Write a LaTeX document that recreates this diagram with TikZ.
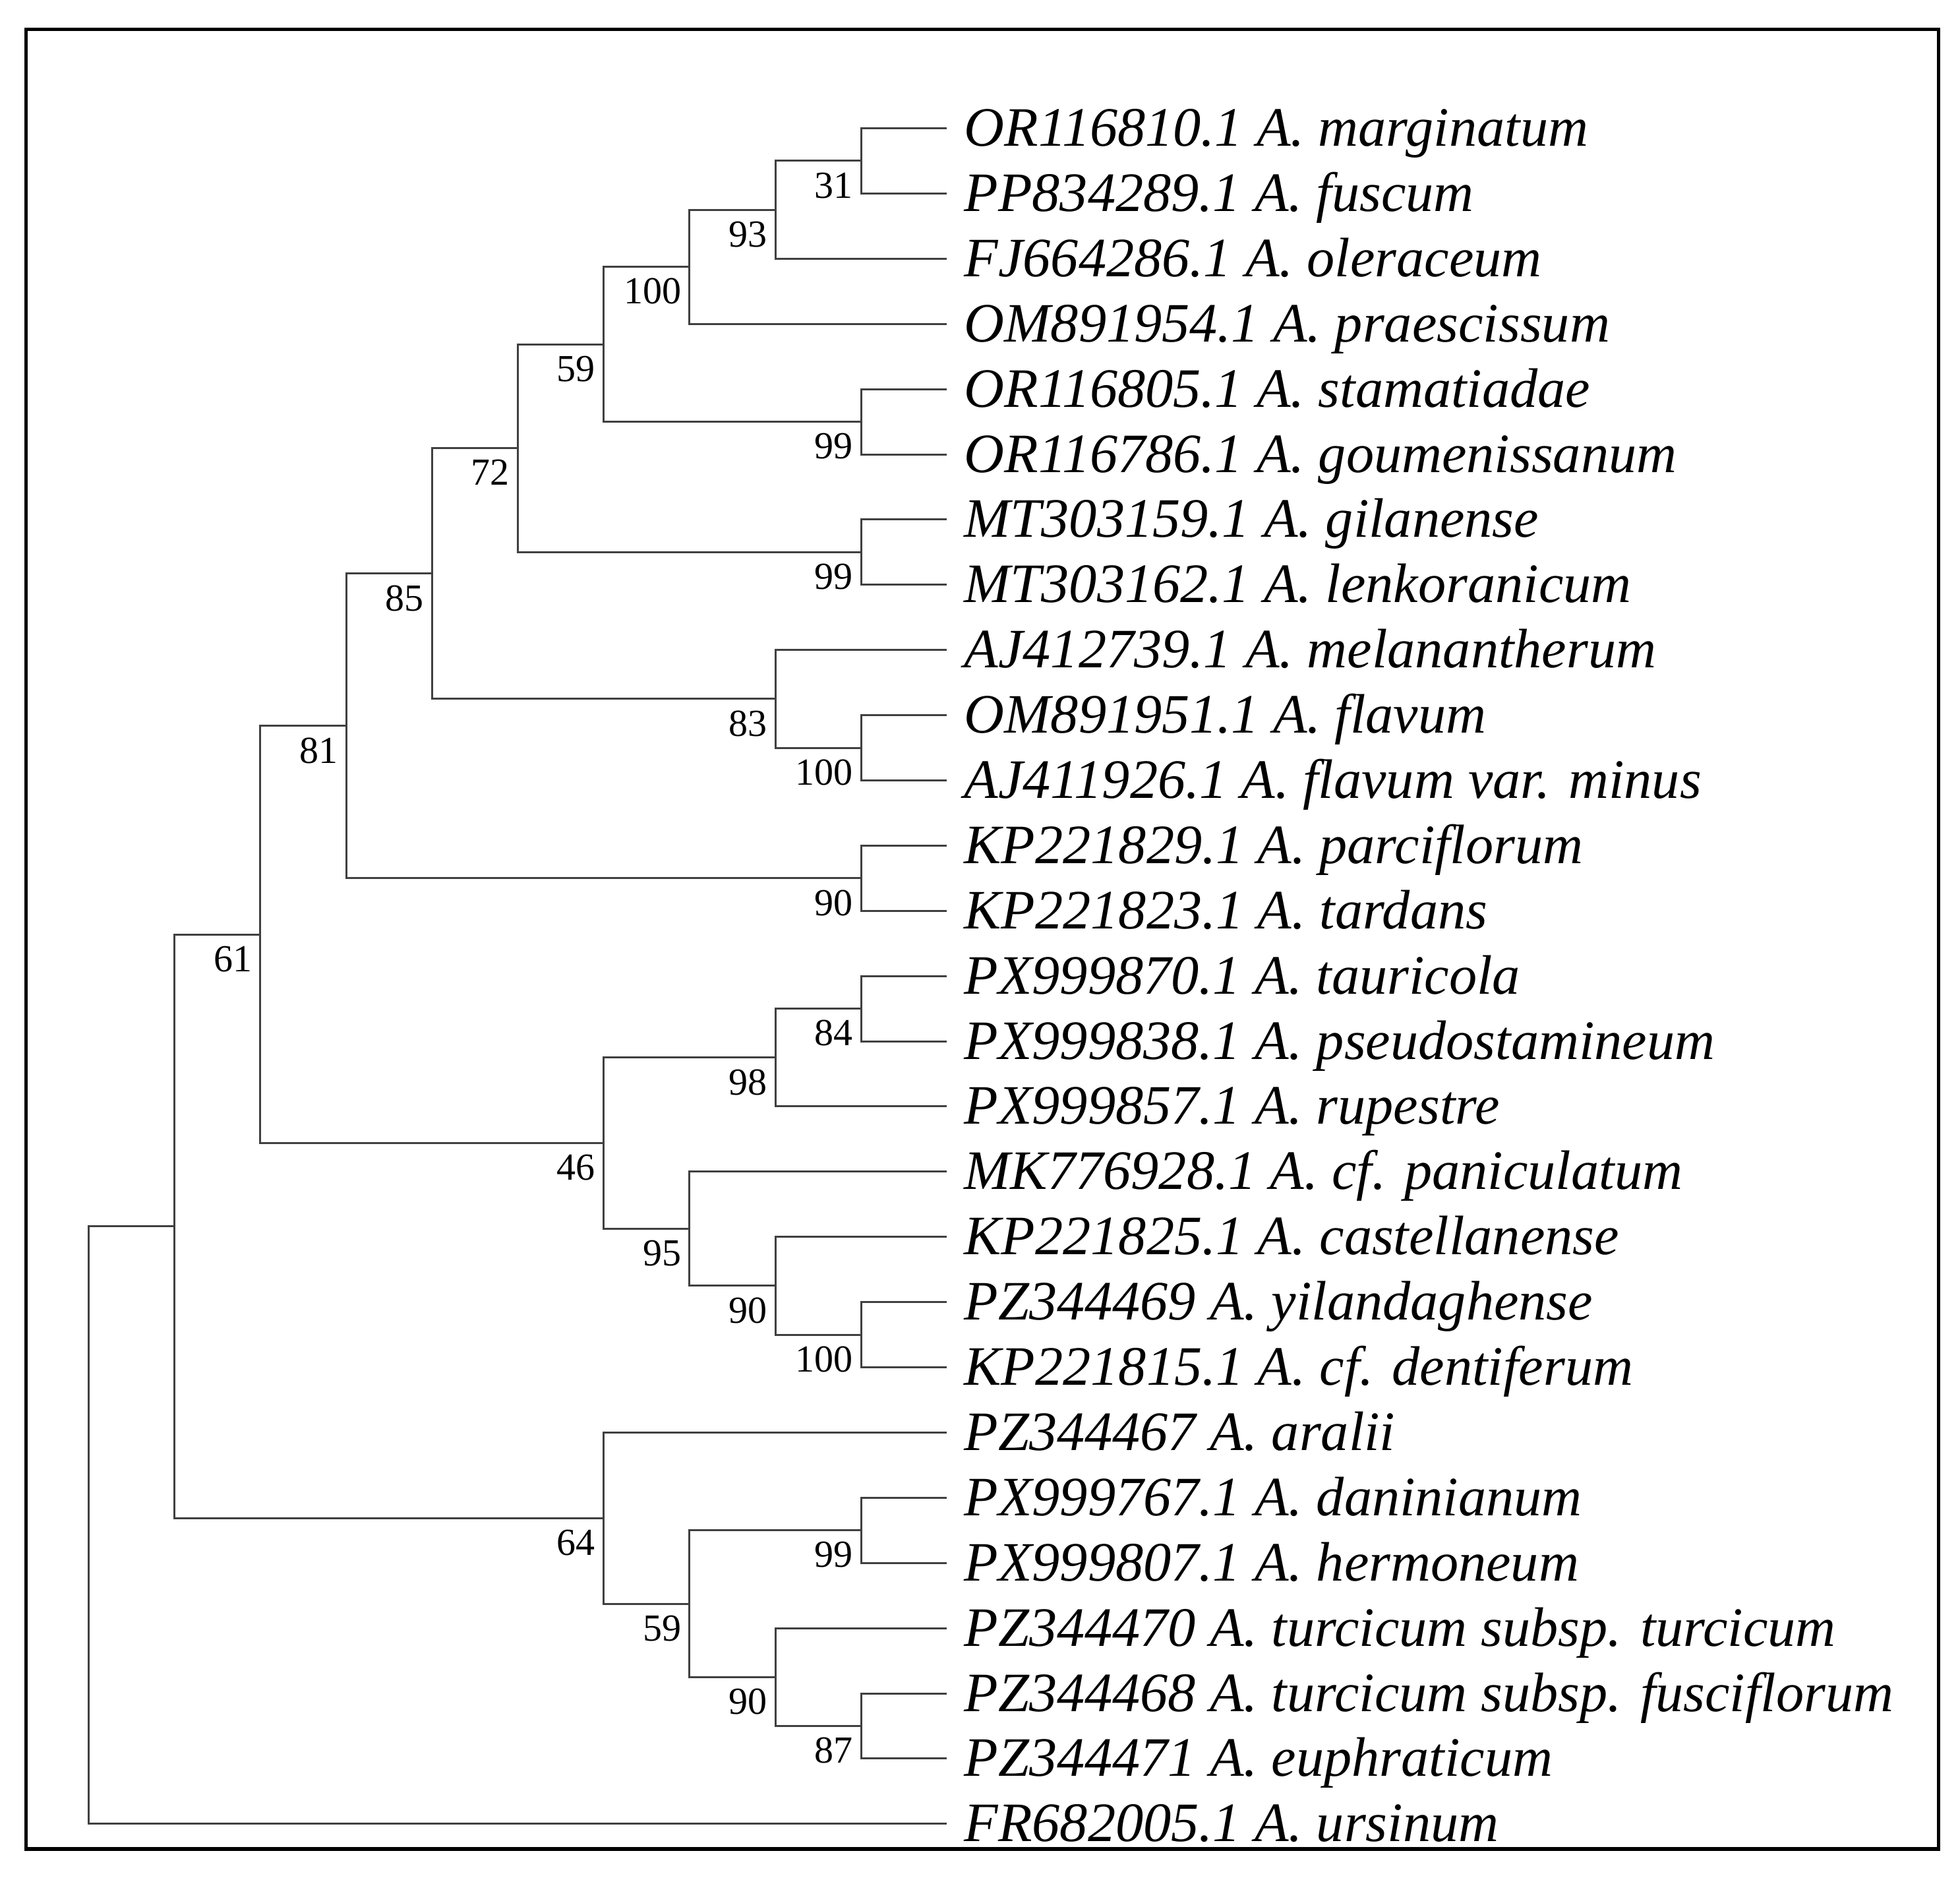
\documentclass[tikz,border=0pt]{standalone}
\usepackage{fontspec}
\setmainfont{Liberation Serif}

\begin{document}
\begin{tikzpicture}[x=1.302cm, y=-0.989cm,
	branch/.style={draw=black!75, line width=0.85pt},
	leaf/.style={anchor=base west, inner sep=0pt, xshift=0.255cm, yshift=-0.27cm,
		font=\fontsize{24pt}{28pt}\selectfont\itshape},
	boot/.style={anchor=north east, inner sep=0pt, xshift=-0.12cm, yshift=-0.17cm,
		font=\fontsize{16.5pt}{20pt}\selectfont}
]
	\useasboundingbox (-1.033,-1.967) rectangle (21.802,26.821);
	% Frame
	\draw[line width=1.56pt] (-0.728,-1.516) rectangle (21.552,26.385);

	% Tips
	\coordinate (t1)  at (10,0);
	\coordinate (t2)  at (10,1);
	\coordinate (t3)  at (10,2);
	\coordinate (t4)  at (10,3);
	\coordinate (t5)  at (10,4);
	\coordinate (t6)  at (10,5);
	\coordinate (t7)  at (10,6);
	\coordinate (t8)  at (10,7);
	\coordinate (t9)  at (10,8);
	\coordinate (t10) at (10,9);
	\coordinate (t11) at (10,10);
	\coordinate (t12) at (10,11);
	\coordinate (t13) at (10,12);
	\coordinate (t14) at (10,13);
	\coordinate (t15) at (10,14);
	\coordinate (t16) at (10,15);
	\coordinate (t17) at (10,16);
	\coordinate (t18) at (10,17);
	\coordinate (t19) at (10,18);
	\coordinate (t20) at (10,19);
	\coordinate (t21) at (10,20);
	\coordinate (t22) at (10,21);
	\coordinate (t23) at (10,22);
	\coordinate (t24) at (10,23);
	\coordinate (t25) at (10,24);
	\coordinate (t26) at (10,25);
	\coordinate (t27) at (10,26);

	% Taxon labels
	\node[leaf] (l1)  at (t1)  {OR116810.1 A. marginatum};
	\node[leaf] (l2)  at (t2)  {PP834289.1 A. fuscum};
	\node[leaf] (l3)  at (t3)  {FJ664286.1 A. oleraceum};
	\node[leaf] (l4)  at (t4)  {OM891954.1 A. praescissum};
	\node[leaf] (l5)  at (t5)  {OR116805.1 A. stamatiadae};
	\node[leaf] (l6)  at (t6)  {OR116786.1 A. goumenissanum};
	\node[leaf] (l7)  at (t7)  {MT303159.1 A. gilanense};
	\node[leaf] (l8)  at (t8)  {MT303162.1 A. lenkoranicum};
	\node[leaf] (l9)  at (t9)  {AJ412739.1 A. melanantherum};
	\node[leaf] (l10) at (t10) {OM891951.1 A. flavum};
	\node[leaf] (l11) at (t11) {AJ411926.1 A. flavum var. minus};
	\node[leaf] (l12) at (t12) {KP221829.1 A. parciflorum};
	\node[leaf] (l13) at (t13) {KP221823.1 A. tardans};
	\node[leaf] (l14) at (t14) {PX999870.1 A. tauricola};
	\node[leaf] (l15) at (t15) {PX999838.1 A. pseudostamineum};
	\node[leaf] (l16) at (t16) {PX999857.1 A. rupestre};
	\node[leaf] (l17) at (t17) {MK776928.1 A. cf. paniculatum};
	\node[leaf] (l18) at (t18) {KP221825.1 A. castellanense};
	\node[leaf] (l19) at (t19) {PZ344469 A. yilandaghense};
	\node[leaf] (l20) at (t20) {KP221815.1 A. cf. dentiferum};
	\node[leaf] (l21) at (t21) {PZ344467 A. aralii};
	\node[leaf] (l22) at (t22) {PX999767.1 A. daninianum};
	\node[leaf] (l23) at (t23) {PX999807.1 A. hermoneum};
	\node[leaf] (l24) at (t24) {PZ344470 A. turcicum subsp. turcicum};
	\node[leaf] (l25) at (t25) {PZ344468 A. turcicum subsp. fusciflorum};
	\node[leaf] (l26) at (t26) {PZ344471 A. euphraticum};
	\node[leaf] (l27) at (t27) {FR682005.1 A. ursinum};

	% Internal nodes (x = depth, y = mean of children)
	\coordinate (n31)   at (9,0.5);
	\coordinate (n93)   at (8,1.25);
	\coordinate (n100a) at (7,2.125);
	\coordinate (n99a)  at (9,4.5);
	\coordinate (n59a)  at (6,3.3125);
	\coordinate (n99b)  at (9,6.5);
	\coordinate (n72)   at (5,4.90625);
	\coordinate (n100b) at (9,9.5);
	\coordinate (n83)   at (8,8.75);
	\coordinate (n85)   at (4,6.828125);
	\coordinate (n90a)  at (9,11.5);
	\coordinate (n81)   at (3,9.1640625);
	\coordinate (n84)   at (9,13.5);
	\coordinate (n98)   at (8,14.25);
	\coordinate (n100c) at (9,18.5);
	\coordinate (n90b)  at (8,17.75);
	\coordinate (n95)   at (7,16.875);
	\coordinate (n46)   at (6,15.5625);
	\coordinate (n61)   at (2,12.36328125);
	\coordinate (n99c)  at (9,21.5);
	\coordinate (n87)   at (9,24.5);
	\coordinate (n90c)  at (8,23.75);
	\coordinate (n59b)  at (7,22.625);
	\coordinate (n64)   at (6,21.3125);
	\coordinate (ningroup) at (1,16.837890625);
	\coordinate (root)  at (0,21.4189453125);

	% Branches
	\draw[branch] (n31) |- (t1);
	\draw[branch] (n31) |- (t2);
	\draw[branch] (n93) |- (n31);
	\draw[branch] (n93) |- (t3);
	\draw[branch] (n100a) |- (n93);
	\draw[branch] (n100a) |- (t4);
	\draw[branch] (n99a) |- (t5);
	\draw[branch] (n99a) |- (t6);
	\draw[branch] (n59a) |- (n100a);
	\draw[branch] (n59a) |- (n99a);
	\draw[branch] (n99b) |- (t7);
	\draw[branch] (n99b) |- (t8);
	\draw[branch] (n72) |- (n59a);
	\draw[branch] (n72) |- (n99b);
	\draw[branch] (n100b) |- (t10);
	\draw[branch] (n100b) |- (t11);
	\draw[branch] (n83) |- (t9);
	\draw[branch] (n83) |- (n100b);
	\draw[branch] (n85) |- (n72);
	\draw[branch] (n85) |- (n83);
	\draw[branch] (n90a) |- (t12);
	\draw[branch] (n90a) |- (t13);
	\draw[branch] (n81) |- (n85);
	\draw[branch] (n81) |- (n90a);
	\draw[branch] (n84) |- (t14);
	\draw[branch] (n84) |- (t15);
	\draw[branch] (n98) |- (n84);
	\draw[branch] (n98) |- (t16);
	\draw[branch] (n100c) |- (t19);
	\draw[branch] (n100c) |- (t20);
	\draw[branch] (n90b) |- (t18);
	\draw[branch] (n90b) |- (n100c);
	\draw[branch] (n95) |- (t17);
	\draw[branch] (n95) |- (n90b);
	\draw[branch] (n46) |- (n98);
	\draw[branch] (n46) |- (n95);
	\draw[branch] (n61) |- (n81);
	\draw[branch] (n61) |- (n46);
	\draw[branch] (n99c) |- (t22);
	\draw[branch] (n99c) |- (t23);
	\draw[branch] (n87) |- (t25);
	\draw[branch] (n87) |- (t26);
	\draw[branch] (n90c) |- (t24);
	\draw[branch] (n90c) |- (n87);
	\draw[branch] (n59b) |- (n99c);
	\draw[branch] (n59b) |- (n90c);
	\draw[branch] (n64) |- (t21);
	\draw[branch] (n64) |- (n59b);
	\draw[branch] (ningroup) |- (n61);
	\draw[branch] (ningroup) |- (n64);
	\draw[branch] (root) |- (ningroup);
	\draw[branch] (root) |- (t27);

	% Bootstrap values
	\node[boot] (b31)   at (n31)   {31};
	\node[boot] (b93)   at (n93)   {93};
	\node[boot] (b100a) at (n100a) {100};
	\node[boot] (b99a)  at (n99a)  {99};
	\node[boot] (b59a)  at (n59a)  {59};
	\node[boot] (b99b)  at (n99b)  {99};
	\node[boot] (b72)   at (n72)   {72};
	\node[boot] (b100b) at (n100b) {100};
	\node[boot] (b83)   at (n83)   {83};
	\node[boot] (b85)   at (n85)   {85};
	\node[boot] (b90a)  at (n90a)  {90};
	\node[boot] (b81)   at (n81)   {81};
	\node[boot] (b84)   at (n84)   {84};
	\node[boot] (b98)   at (n98)   {98};
	\node[boot] (b100c) at (n100c) {100};
	\node[boot] (b90b)  at (n90b)  {90};
	\node[boot] (b95)   at (n95)   {95};
	\node[boot] (b46)   at (n46)   {46};
	\node[boot] (b61)   at (n61)   {61};
	\node[boot] (b99c)  at (n99c)  {99};
	\node[boot] (b87)   at (n87)   {87};
	\node[boot] (b90c)  at (n90c)  {90};
	\node[boot] (b59b)  at (n59b)  {59};
	\node[boot] (b64)   at (n64)   {64};
\end{tikzpicture}
\end{document}
